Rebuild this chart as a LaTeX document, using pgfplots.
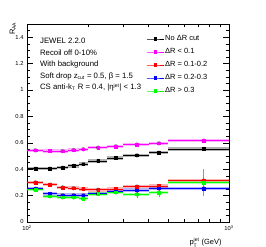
\documentclass[border=0pt]{standalone}
\usepackage{pgfplots}
\pgfplotsset{compat=1.18}
\usepackage{pgfplotstable}
\usepackage{fontspec}
\setmainfont{Liberation Sans}
\definecolor{cmag}{RGB}{255,0,255}
\definecolor{cred}{RGB}{255,0,0}
\definecolor{cblue}{RGB}{0,0,255}
\definecolor{cgreen}{RGB}{0,255,0}
\pgfplotstableread{
x ex y ey
110 10 0.404 0.004
130 10 0.404 0.004
150 10 0.411 0.004
170 10 0.426 0.004
190 10 0.439 0.004
225 25 0.462 0.004
275 25 0.485 0.004
350 50 0.505 0.004
450 50 0.525 0.004
750 250 0.553 0.004
}\tblack
\pgfplotstableread{
x ex y ey
110 10 0.543 0.004
130 10 0.538 0.004
150 10 0.537 0.004
170 10 0.545 0.004
190 10 0.551 0.004
225 25 0.563 0.004
275 25 0.573 0.004
350 50 0.586 0.004
450 50 0.596 0.004
750 250 0.616 0.004
}\tmag
\pgfplotstableread{
x ex y ey
110 10 0.300 0.004
130 10 0.283 0.004
150 10 0.262 0.004
170 10 0.256 0.004
190 10 0.250 0.004
225 25 0.244 0.004
275 25 0.250 0.004
350 50 0.268 0.006
450 50 0.273 0.006
750 250 0.313 0.008
}\tred
\pgfplotstableread{
x ex y ey
110 10 0.252 0.006
130 10 0.213 0.006
150 10 0.203 0.005
170 10 0.203 0.005
190 10 0.203 0.006
225 25 0.215 0.005
275 25 0.230 0.005
350 50 0.242 0.008
450 50 0.255 0.010
750 250 0.254 0.012
}\tblue
\pgfplotstableread{
x ex y ey
110 10 0.245 0.005
130 10 0.195 0.006
150 10 0.187 0.006
170 10 0.187 0.008
190 10 0.177 0.014
225 25 0.212 0.008
275 25 0.225 0.012
350 50 0.210 0.025
450 50 0.222 0.030
750 250 0.300 0.100
}\tgreen
\pgfplotsset{
  band/.style={forget plot, only marks, mark=none, opacity=0.3,
    error bars/.cd, x dir=both, x explicit, error mark=none,
    error bar style={line width=3.5bp, #1}},
  pts/.style={forget plot, only marks, mark=square*, mark size=1.35bp, color=#1,
    error bars/.cd, x dir=both, x explicit, y dir=both, y explicit, error mark=none,
    error bar style={line width=0.8pt}},
}
\begin{document}
\begin{tikzpicture}
\useasboundingbox (0,0) rectangle (266bp,247bp);
\begin{axis}[
  at={(27bp,25bp)}, anchor=south west,
  scale only axis, width=202bp, height=198bp,
  xmode=log, xmin=100, xmax=1000,
  ymin=0, ymax=1.5,
  xtick={100,1000}, xticklabels={10\textsuperscript{2},10\textsuperscript{3}},
  minor xtick={200,300,400,500,600,700,800,900},
  ytick={0,0.2,0.4,0.6,0.8,1,1.2,1.4},
  minor ytick={0.05,0.1,0.15,0.25,0.3,0.35,0.45,0.5,0.55,0.65,0.7,0.75,0.85,0.9,0.95,1.05,1.1,1.15,1.25,1.3,1.35,1.45},
  tick align=inside, major tick length=6bp, minor tick length=3bp,
  xtick pos=both, ytick pos=both,
  tick style={black, line width=0.4pt},
  /pgf/number format/assume math mode=true,
  tick label style={font=\fontsize{5.8}{7}\selectfont},
  xlabel={p$_{\mbox{\fontsize{5}{6}\selectfont T}}^{\mbox{\fontsize{5}{6}\selectfont jet}}$ (GeV)},
  xlabel style={at={(axis description cs:1,0)}, anchor=north east, yshift=-12bp, xshift=-4bp, font=\fontsize{7.5}{9}\selectfont},
  legend style={at={(axis description cs:0.59,0.948)}, anchor=north west, draw=none, fill=none,
    font=\fontsize{7.5}{9}\selectfont, inner sep=0pt, row sep=4bp,
    nodes={inner sep=1bp, text height=5.5bp, text depth=1.5bp}},
  legend cell align=left,
  legend image code/.code={\draw[#1] plot[mark repeat=2, mark phase=2] coordinates {(0bp,0bp)(8.5bp,0bp)(17bp,0bp)};},
  clip=false,
]
% shaded bands
\addplot[band=cmag] table[x=x, y=y, x error=ex] {\tmag};
\addplot[band=black] table[x=x, y=y, x error=ex] {\tblack};
\addplot[band=cred] table[x=x, y=y, x error=ex] {\tred};
\addplot[band=cblue] table[x=x, y=y, x error=ex] {\tblue};
\addplot[band=cgreen] table[x=x, y=y, x error=ex] {\tgreen};
% points
\addplot[pts=cmag] table[x=x, y=y, x error=ex, y error=ey] {\tmag};
\addplot[pts=black] table[x=x, y=y, x error=ex, y error=ey] {\tblack};
\addplot[pts=cred] table[x=x, y=y, x error=ex, y error=ey] {\tred};
\addplot[pts=cblue] table[x=x, y=y, x error=ex, y error=ey] {\tblue};
\addplot[pts=cgreen] table[x=x, y=y, x error=ex, y error=ey] {\tgreen};
\addlegendimage{black, line width=0.8pt, mark=square*, mark size=1.1bp}
\addlegendentry{No ΔR cut}
\addlegendimage{cmag, line width=0.8pt, mark=square*, mark size=1.1bp}
\addlegendentry{ΔR < 0.1}
\addlegendimage{cred, line width=0.8pt, mark=square*, mark size=1.1bp}
\addlegendentry{ΔR = 0.1-0.2}
\addlegendimage{cblue, line width=0.8pt, mark=square*, mark size=1.1bp}
\addlegendentry{ΔR = 0.2-0.3}
\addlegendimage{cgreen, line width=0.8pt, mark=square*, mark size=1.1bp}
\addlegendentry{ΔR > 0.3}
\node[rotate=90, anchor=south east, inner sep=0pt, font=\fontsize{7.5}{9}\selectfont] at (axis description cs:-0.054,1.01) {R$_{\mbox{\fontsize{5}{6}\selectfont AA}}$};
\node[anchor=base west, inner sep=0pt, font=\fontsize{7.8}{9}\selectfont] at (axis description cs:0.064,0.9025) {JEWEL 2.2.0};
\node[anchor=base west, inner sep=0pt, font=\fontsize{7.8}{9}\selectfont] at (axis description cs:0.064,0.843) {Recoil off 0-10\%};
\node[anchor=base west, inner sep=0pt, font=\fontsize{7.8}{9}\selectfont] at (axis description cs:0.064,0.785) {With background};
\node[anchor=base west, inner sep=0pt, font=\fontsize{7.8}{9}\selectfont] at (axis description cs:0.064,0.727) {Soft drop z$_{\mbox{\fontsize{5}{6}\selectfont cut}}$ = 0.5, β = 1.5};
\node[anchor=base west, inner sep=0pt, font=\fontsize{7.8}{9}\selectfont] at (axis description cs:0.064,0.667) {CS anti-k$_{\mbox{\fontsize{5}{6}\selectfont T}}$ R = 0.4, |η$^{\mbox{\fontsize{5}{6}\selectfont jet}}$| < 1.3};
\end{axis}
\end{tikzpicture}
\end{document}
